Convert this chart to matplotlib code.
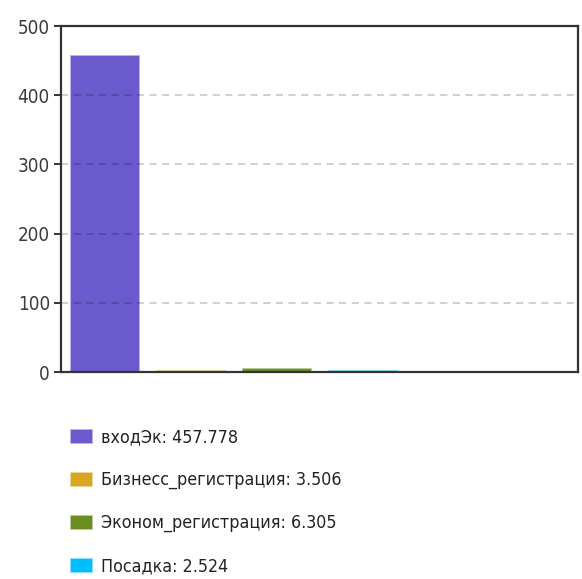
import matplotlib.pyplot as plt
from matplotlib.colors import to_rgb

# series totals
names = ['входЭк', 'Бизнесс_регистрация', 'Эконом_регистрация', 'Посадка']
values = [457.778, 3.506, 6.305, 2.524]
colors = ['#6a5acd', '#daa520', '#6b8e23', '#00bfff']
yticks = [0, 100, 200, 300, 400, 500]

plt.rcParams['font.family'] = ['DejaVu Sans']
plt.rcParams['font.stretch'] = 'condensed'


def lighter(c, k=0.55):
    r, g, b = to_rgb(c)
    return (r + (1 - r) * k, g + (1 - g) * k, b + (1 - b) * k)


fig = plt.figure(figsize=(5.82, 5.79), dpi=100)
ax = fig.add_axes([0.1048, 0.3575, 0.888, 0.5975])

handles = []
for i, (n, v, c) in enumerate(zip(names, values, colors)):
    b = ax.bar(i, v, width=0.8, color=c, edgecolor=lighter(c), linewidth=0.6,
               zorder=2)
    handles.append(b)

ax.set_xlim(-0.5, 5.5)
ax.set_ylim(0, 500)
ax.set_yticks(yticks)
ax.set_yticklabels([str(t) for t in yticks], fontsize=13.5, color='#3a3a3a')
ax.set_xticks([])

# dashed guides drawn over the bars
for t in yticks[1:-1]:
    ax.axhline(t, color='black', alpha=0.2, linestyle=(0, (4, 3)),
               linewidth=1.3, zorder=3)

for s in ax.spines.values():
    s.set_color('#333333')
    s.set_linewidth(1.6)
    s.set_zorder(4)
ax.tick_params(axis='y', direction='out', length=5, width=1.4, color='#333333', pad=3)

fig.legend(handles=handles, labels=[f'{n}: {v:.3f}' for n, v in zip(names, values)],
           loc='upper left', bbox_to_anchor=(70 / 582, 1 - 428 / 579),
           frameon=False, fontsize=12.8, labelspacing=1.4,
           handlelength=1.25, handleheight=0.85, handletextpad=0.5,
           borderpad=0, borderaxespad=0, labelcolor='#222222')

plt.savefig('out.png', dpi=100)
